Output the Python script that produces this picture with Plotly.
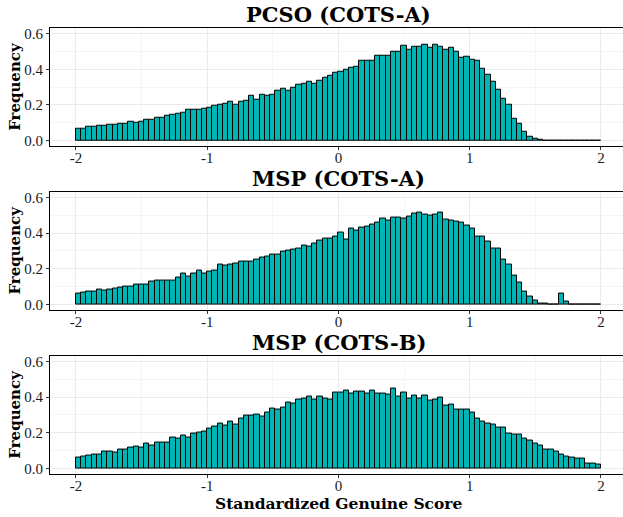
import plotly.graph_objects as go

# ---- data (bin centres from -1.98 to 1.98, width 0.04) ----
bin_width = 0.04
bin_centers = [round(-2 + bin_width * (i + 0.5), 4) for i in range(100)]

pcso_cots_a = [
    0.067, 0.069, 0.076, 0.076, 0.085, 0.081, 0.087, 0.091, 0.093, 0.093,
    0.106, 0.100, 0.107, 0.119, 0.115, 0.126, 0.130, 0.139, 0.143, 0.152,
    0.154, 0.172, 0.174, 0.174, 0.181, 0.187, 0.193, 0.200, 0.207, 0.219,
    0.204, 0.219, 0.226, 0.252, 0.230, 0.257, 0.249, 0.258, 0.280, 0.290,
    0.280, 0.298, 0.315, 0.319, 0.330, 0.320, 0.337, 0.354, 0.365, 0.383,
    0.389, 0.396, 0.411, 0.415, 0.446, 0.446, 0.448, 0.476, 0.476, 0.476,
    0.496, 0.496, 0.531, 0.509, 0.524, 0.526, 0.535, 0.520, 0.535, 0.528,
    0.511, 0.519, 0.500, 0.465, 0.470, 0.454, 0.450, 0.404, 0.370, 0.330,
    0.283, 0.235, 0.204, 0.124, 0.093, 0.050, 0.022, 0.009, 0.004, 0.001,
    0.001, 0.001, 0.001, 0.001, 0.001, 0.001, 0.001, 0.001, 0.001, 0.001,
]

msp_cots_a = [
    0.063, 0.067, 0.074, 0.074, 0.083, 0.078, 0.085, 0.089, 0.094, 0.100,
    0.100, 0.113, 0.113, 0.109, 0.126, 0.131, 0.133, 0.133, 0.133, 0.152,
    0.172, 0.156, 0.174, 0.187, 0.172, 0.185, 0.189, 0.222, 0.217, 0.222,
    0.231, 0.239, 0.239, 0.239, 0.252, 0.263, 0.270, 0.280, 0.281, 0.298,
    0.304, 0.305, 0.311, 0.331, 0.324, 0.344, 0.359, 0.368, 0.371, 0.379,
    0.402, 0.363, 0.428, 0.413, 0.431, 0.435, 0.450, 0.459, 0.480, 0.472,
    0.487, 0.487, 0.480, 0.491, 0.509, 0.517, 0.504, 0.498, 0.506, 0.515,
    0.478, 0.469, 0.463, 0.461, 0.443, 0.426, 0.378, 0.378, 0.350, 0.313,
    0.311, 0.252, 0.224, 0.159, 0.120, 0.074, 0.044, 0.022, 0.007, 0.002,
    0.001, 0.001, 0.061, 0.015, 0.001, 0.001, 0.001, 0.001, 0.001, 0.001,
]

msp_cots_b = [
    0.059, 0.065, 0.074, 0.078, 0.080, 0.096, 0.093, 0.091, 0.107, 0.104,
    0.117, 0.122, 0.119, 0.137, 0.130, 0.144, 0.148, 0.148, 0.174, 0.167,
    0.185, 0.172, 0.193, 0.204, 0.207, 0.222, 0.237, 0.250, 0.243, 0.263,
    0.248, 0.278, 0.298, 0.294, 0.304, 0.291, 0.315, 0.337, 0.333, 0.342,
    0.370, 0.365, 0.385, 0.391, 0.403, 0.385, 0.402, 0.391, 0.385, 0.428,
    0.427, 0.435, 0.422, 0.433, 0.433, 0.420, 0.435, 0.422, 0.422, 0.415,
    0.446, 0.404, 0.426, 0.391, 0.407, 0.393, 0.406, 0.383, 0.385, 0.398,
    0.354, 0.361, 0.331, 0.331, 0.331, 0.315, 0.278, 0.265, 0.254, 0.248,
    0.231, 0.231, 0.198, 0.191, 0.191, 0.167, 0.157, 0.137, 0.130, 0.104,
    0.107, 0.094, 0.080, 0.067, 0.059, 0.054, 0.054, 0.030, 0.030, 0.020,
]

panel_titles = ["PCSO (COTS-A)", "MSP (COTS-A)", "MSP (COTS-B)"]
series = [pcso_cots_a, msp_cots_a, msp_cots_b]
x_ticks = [-2, -1, 0, 1, 2]
x_tick_labels = ["-2", "-1", "0", "1", "2"]
y_ticks = [0.0, 0.2, 0.4, 0.6]
y_tick_labels = ["0.0", "0.2", "0.4", "0.6"]
x_title = "Standardized Genuine Score"
y_title = "Frequency"

# ---- layout geometry (pixels) ----
W, H = 623, 517
left_px = 50
panels_px = [(26, 145.4), (191.4, 310.7), (357, 476.4)]  # (top, bottom)
TICK_FONT = "Liberation Serif"
TITLE_FONT = "DejaVu Serif"
fill = "#00B4B4"

fig = go.Figure()
annotations = []
layout_axes = {}
for k, (vals, title, (top, bot)) in enumerate(zip(series, panel_titles, panels_px)):
    xa = "x" if k == 0 else f"x{k+1}"
    ya = "y" if k == 0 else f"y{k+1}"
    fig.add_trace(go.Bar(
        x=bin_centers, y=vals, width=bin_width,
        marker=dict(color=fill, line=dict(color="black", width=1)),
        xaxis=xa, yaxis=ya, showlegend=False, hoverinfo="skip",
    ))
    dom_y = [1 - bot / H, 1 - top / H]
    xkey = "xaxis" if k == 0 else f"xaxis{k+1}"
    ykey = "yaxis" if k == 0 else f"yaxis{k+1}"
    layout_axes[xkey] = dict(
        domain=[left_px / W, 1], range=[-2.198, 2.168], anchor=ya,
        tickvals=x_ticks, ticktext=x_tick_labels,
        ticks="outside", ticklen=3, tickcolor="#333333", tickwidth=1,
        ticklabelstandoff=-5,
        showline=True, linecolor="black", linewidth=1.2, mirror=True,
        showgrid=True, gridcolor="#EBEBEB", gridwidth=1,
        minor=dict(tickvals=[-1.5, -0.5, 0.5, 1.5], showgrid=True, gridcolor="#F5F5F5", gridwidth=0.8),
        zeroline=False,
        tickfont=dict(family=TICK_FONT, size=15, color="#1a1a1a"),
    )
    layout_axes[ykey] = dict(
        domain=dom_y, range=[-0.03, 0.633], anchor=xa,
        tickvals=y_ticks, ticktext=y_tick_labels,
        ticks="outside", ticklen=3, tickcolor="#333333", tickwidth=1,
        showline=True, linecolor="black", linewidth=1.2, mirror=False,
        showgrid=True, gridcolor="#EBEBEB", gridwidth=1,
        minor=dict(tickvals=[0.1, 0.3, 0.5], showgrid=True, gridcolor="#F5F5F5", gridwidth=0.8),
        zeroline=False,
        tickfont=dict(family=TICK_FONT, size=15, color="#1a1a1a"),
    )
    annotations.append(dict(
        text=f"<b>{title}</b>", x=338.5 / W, y=1 - (top - 13) / H,
        xref="paper", yref="paper", showarrow=False, xanchor="center", yanchor="middle",
        font=dict(family=TITLE_FONT, size=21, color="black"),
    ))
    annotations.append(dict(
        text=f"<b>{y_title}</b>", x=15 / W, y=1 - ((top + bot) / 2) / H,
        xref="paper", yref="paper", showarrow=False, textangle=-90,
        xanchor="center", yanchor="middle",
        font=dict(family=TITLE_FONT, size=15, color="black"),
    ))

annotations.append(dict(
    text=f"<b>{x_title}</b>", x=338.5 / W, y=1 - 506 / H,
    xref="paper", yref="paper", showarrow=False, xanchor="center", yanchor="middle",
    font=dict(family=TITLE_FONT, size=15.5, color="black"),
))

fig.update_layout(
    width=W, height=H, margin=dict(l=0, r=0, t=0, b=0),
    paper_bgcolor="white", plot_bgcolor="white",
    bargap=0, annotations=annotations, **layout_axes,
)
fig.write_html("out.html", include_plotlyjs=True)
